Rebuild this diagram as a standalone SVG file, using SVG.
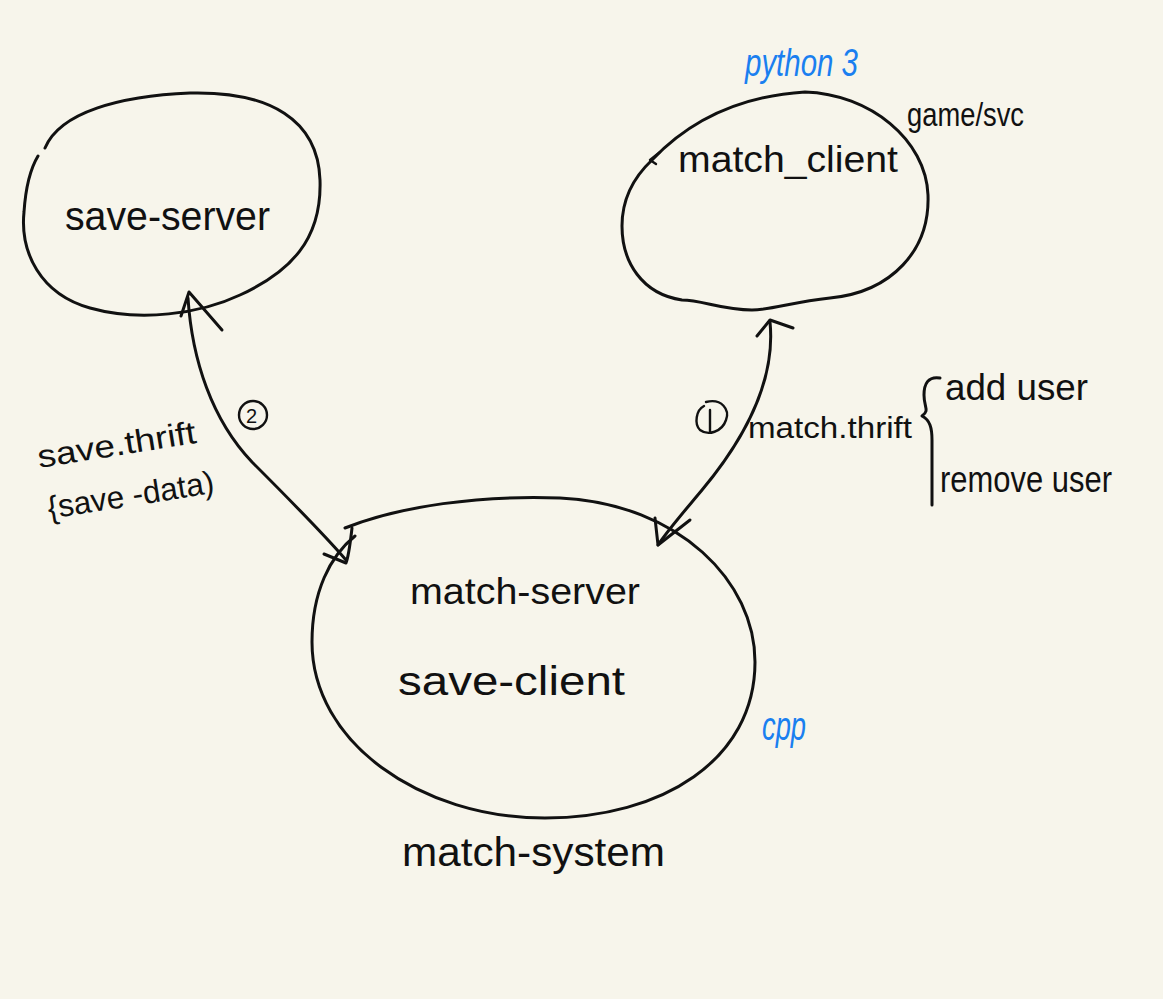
<svg xmlns="http://www.w3.org/2000/svg" width="1163" height="999" viewBox="0 0 1163 999">
<style>
.ink{fill:none;stroke:#111;stroke-width:3;stroke-linecap:round;stroke-linejoin:round}
.thin{fill:none;stroke:#111;stroke-width:2.4;stroke-linecap:round;stroke-linejoin:round}
.t{font-family:"Liberation Sans","DejaVu Sans",sans-serif;fill:#111}
.b{font-family:"Liberation Sans","DejaVu Sans",sans-serif;fill:#1a7ff0;font-style:italic}
</style>
<rect width="1163" height="999" fill="#f7f5eb"/>
<g id="save-server">
<path class="ink" d="M45,148 C60,112 120,96 190,93 C270,91 318,120 320,180 C322,240 290,272 240,295 C200,314 140,322 90,308 C40,294 20,252 24,212 C26,182 32,166 38,156"/>
<text class="t" x="65" y="230" font-size="40" textLength="205" lengthAdjust="spacingAndGlyphs">save-server</text>
</g>
<g id="match-client">
<path class="ink" d="M652,160 C690,120 740,96 805,92 C870,94 926,140 928,195 C930,250 892,292 830,298 C792,302 772,310 752,310 C722,310 702,300 682,300 C642,294 622,262 622,226 C622,196 635,176 652,160"/>
<path class="thin" d="M660,152 L650,160 L656,164"/>
<text class="t" x="678" y="172" font-size="36" textLength="220" lengthAdjust="spacingAndGlyphs">match_client</text>
<text class="b" x="745" y="76" font-size="38" textLength="113" lengthAdjust="spacingAndGlyphs">python 3</text>
<text class="t" x="907" y="126" font-size="34" textLength="117" lengthAdjust="spacingAndGlyphs">game/svc</text>
</g>
<g id="match-system">
<path class="ink" d="M345,528 C400,506 480,495 560,498 C680,504 755,582 755,662 C755,760 662,818 545,818 C420,818 312,742 312,642 C312,592 330,556 355,536"/>
<text class="t" x="410" y="604" font-size="36" textLength="230" lengthAdjust="spacingAndGlyphs">match-server</text>
<text class="t" x="398" y="695" font-size="40" textLength="227" lengthAdjust="spacingAndGlyphs">save-client</text>
<text class="b" x="762" y="740" font-size="40" textLength="44" lengthAdjust="spacingAndGlyphs">cpp</text>
<text class="t" x="402" y="866" font-size="40" textLength="263" lengthAdjust="spacingAndGlyphs">match-system</text>
</g>
<g id="connectors">
<path class="ink" d="M188,298 C192,360 212,420 252,462 C290,500 322,532 346,560"/>
<path class="ink" d="M181,316 L189,292 L222,330"/>
<path class="ink" d="M352,528 C350,545 349,555 346,563 L324,554"/>
<path class="ink" d="M770,322 C776,382 742,442 702,490 C682,514 668,530 658,545"/>
<path class="ink" d="M757,336 L770,320 L793,328"/>
<path class="ink" d="M655,518 L658,545 L690,520"/>
<circle class="thin" cx="253" cy="415" r="14"/>
<text class="t" x="246" y="423" font-size="20">2</text>
<path class="thin" d="M706,402 C722,398 730,410 726,420 C722,432 708,436 700,430 C694,424 696,410 704,406 M710,410 L710,432"/>
<g transform="rotate(-9 38 460)">
<text class="t" x="38" y="468" font-size="32" textLength="160" lengthAdjust="spacingAndGlyphs">save.thrift</text>
<text class="t" x="40" y="520" font-size="32" textLength="168" lengthAdjust="spacingAndGlyphs">{save -data)</text>
</g>
<text class="t" x="748" y="438" font-size="30" textLength="164" lengthAdjust="spacingAndGlyphs">match.thrift</text>
<path class="ink" d="M940,378 C928,376 924,384 924,395 C924,408 930,410 922,416 C930,420 932,428 932,440 L932,505"/>
<text class="t" x="945" y="400" font-size="36" textLength="143" lengthAdjust="spacingAndGlyphs">add user</text>
<text class="t" x="940" y="492" font-size="36" textLength="172" lengthAdjust="spacingAndGlyphs">remove user</text>
</g>
</svg>
